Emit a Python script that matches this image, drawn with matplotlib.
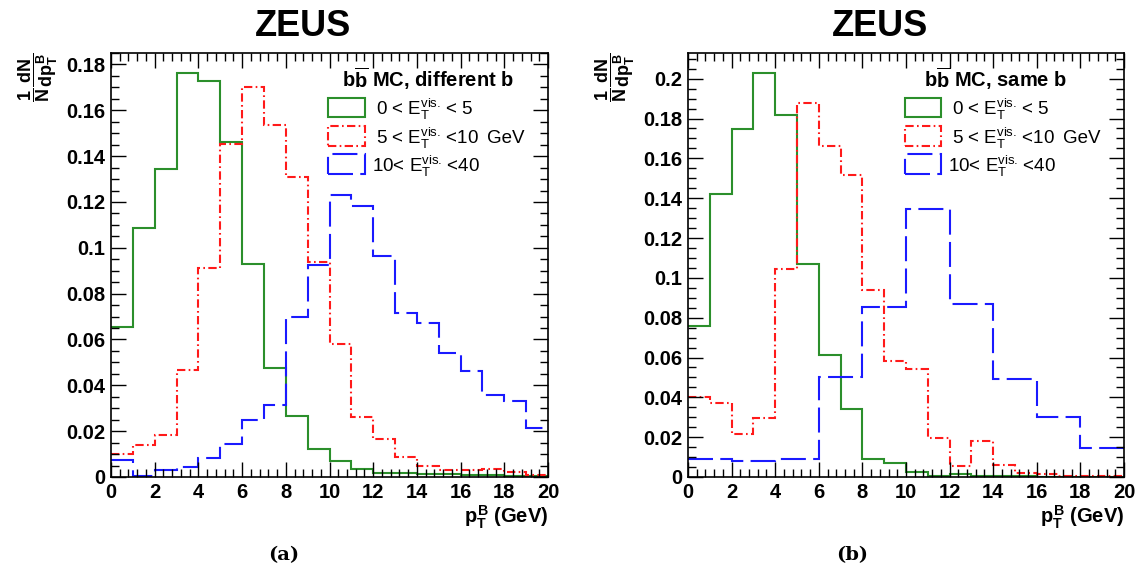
import numpy as np
import matplotlib
matplotlib.use("Agg")
import matplotlib.pyplot as plt
from matplotlib.patches import Rectangle
from matplotlib.ticker import MultipleLocator

plt.rcParams['font.family'] = ['Liberation Sans', 'DejaVu Sans']
plt.rcParams['mathtext.fontset'] = 'custom'
plt.rcParams['mathtext.rm'] = 'Liberation Sans:bold'
plt.rcParams['mathtext.it'] = 'Liberation Sans:bold'
plt.rcParams['mathtext.bf'] = 'Liberation Sans:bold'
plt.rcParams['mathtext.sf'] = 'Liberation Sans'

# pT^B bin edges (GeV), 1 GeV bins from 0 to 20
edges = np.arange(0, 21, 1)

# (a) different b
diff_low = [0.0656, 0.1087, 0.1343, 0.1763, 0.1727, 0.1463, 0.0930, 0.0476, 0.0266, 0.0124,
            0.0070, 0.0033, 0.0017, 0.0017, 0.0012, 0.0012, 0.0008, 0.0007, 0.0006, 0.0005]
diff_mid = [0.0102, 0.0141, 0.0182, 0.0468, 0.0910, 0.1455, 0.1700, 0.1535, 0.1310, 0.0940,
            0.0580, 0.0260, 0.0167, 0.0087, 0.0047, 0.0030, 0.0030, 0.0036, 0.0020, 0.0010]
diff_high = [0.0073, 0.0005, 0.0030, 0.0044, 0.0083, 0.0145, 0.0247, 0.0313, 0.0698, 0.0927,
             0.1229, 0.1183, 0.0964, 0.0716, 0.0672, 0.0543, 0.0461, 0.0359, 0.0330, 0.0214]

# (b) same b
same_low = [0.0758, 0.1423, 0.1749, 0.2028, 0.1816, 0.1071, 0.0614, 0.0343, 0.0092, 0.0070,
            0.0023, 0.0007, 0.0013, 0.0004, 0.0003, 0.0003, 0.0002, 0.0002, 0.0002, 0.0002]
same_mid = [0.0402, 0.0372, 0.0214, 0.0296, 0.1044, 0.1880, 0.1660, 0.1515, 0.0940, 0.0582,
            0.0544, 0.0196, 0.0057, 0.0179, 0.0060, 0.0020, 0.0013, 0.0004, 0.0003, 0.0003]
same_high = [0.0092, 0.0092, 0.0080, 0.0080, 0.0092, 0.0092, 0.0502, 0.0502, 0.0854, 0.0854,
             0.1344, 0.1344, 0.0870, 0.0870, 0.0490, 0.0490, 0.0301, 0.0301, 0.0146, 0.0146]

ET = r'$\mathsf{E_{T}^{vis.}}\,$'
legend_labels = ['0 < ' + ET + '< 5',
                 '5 < ' + ET + '<10',
                 '10< ' + ET + '<40']
headers = [r'$\mathbf{b\overline{b}}$ MC, different b', r'$\mathbf{b\overline{b}}$ MC, same b']
captions = ['(a)', '(b)']

green = '#2b8f2b'
red = '#ff1a1a'
blue = '#1a1aff'
styles = [dict(color=green, linestyle='-'),
          dict(color=red, linestyle=(0, (4, 1.6, 0.8, 1.6))),
          dict(color=blue, linestyle=(0, (12, 3.5)))]

W, H = 1136, 567
fig = plt.figure(figsize=(W / 100, H / 100), dpi=100)

panels = [
    dict(left=111, right=548, data=[diff_low, diff_mid, diff_high], ymax=0.185, hx=0.725,
         header=headers[0], caption=captions[0], yticks=np.arange(0, 0.181, 0.02),
         tlabels=['0', '0.02', '0.04', '0.06', '0.08', '0.1', '0.12', '0.14', '0.16', '0.18']),
    dict(left=688, right=1124, data=[same_low, same_mid, same_high], ymax=0.2129, hx=0.706,
         header=headers[1], caption=captions[1], yticks=np.arange(0, 0.201, 0.02),
         tlabels=['0', '0.02', '0.04', '0.06', '0.08', '0.1', '0.12', '0.14', '0.16', '0.18', '0.2']),
]

top, bottom = 53, 477
for i, p in enumerate(panels):
    ax = fig.add_axes([p['left'] / W, (H - bottom) / H, (p['right'] - p['left']) / W, (bottom - top) / H])
    for vals, st in zip(p['data'], styles):
        ax.stairs(vals, edges, baseline=None, linewidth=1.5, **st)
    ax.set_xlim(0, 20)
    ax.set_ylim(0, p['ymax'])
    ax.xaxis.set_major_locator(MultipleLocator(2))
    ax.xaxis.set_minor_locator(MultipleLocator(0.4))
    ax.set_yticks(p['yticks'])
    ax.set_yticklabels(p['tlabels'])
    ax.yaxis.set_minor_locator(MultipleLocator(0.005))
    ax.tick_params(which='both', direction='in', top=True, right=True, width=1.0)
    ax.tick_params(which='major', length=11, labelsize=14.5, pad=4)
    ax.tick_params(which='minor', length=6)
    for lab in ax.get_xticklabels() + ax.get_yticklabels():
        lab.set_fontweight('bold')
    for s in ax.spines.values():
        s.set_linewidth(1.2)

    # legend drawn in axes coordinates
    ax.text(p['hx'], 0.939, p['header'], transform=ax.transAxes,
            ha='center', va='center', fontsize=14.5, fontweight='bold')
    rows = [0.872, 0.804, 0.738]
    for y, st, lab in zip(rows, styles, legend_labels):
        ax.add_patch(Rectangle((0.497, y - 0.023), 0.084, 0.046, transform=ax.transAxes,
                               fill=False, edgecolor=st['color'], linestyle=st['linestyle'],
                               linewidth=1.5, clip_on=False))
        tx = 0.597 if lab.startswith('10') else 0.606
        ax.text(tx, y - 0.006, lab, transform=ax.transAxes, ha='left', va='center', fontsize=13.5)
    ax.text(0.86, rows[1] - 0.006, 'GeV', transform=ax.transAxes, ha='left', va='center', fontsize=13.5)

    # titles and labels
    fig.text((p['left'] + 192) / W, 1 - 26 / H, 'ZEUS', ha='center', va='center',
             fontsize=26, fontweight='bold')
    fig.text((p['left'] - 73) / W, 1 - 77 / H, r'$\dfrac{1}{N}\dfrac{dN}{dp_{T}^{B}}$', rotation=90,
             ha='center', va='center', fontsize=13)
    fig.text(p['right'] / W, 1 - 517 / H, r'$p_{T}^{B}$ (GeV)', ha='right', va='center',
             fontsize=14.5, fontweight='bold')
    fig.text((284 + 568 * i) / W, 1 - 555 / H, p['caption'], ha='center', va='center',
             fontsize=14, fontweight='bold', family='DejaVu Serif')

fig.savefig('out.png', dpi=100)
